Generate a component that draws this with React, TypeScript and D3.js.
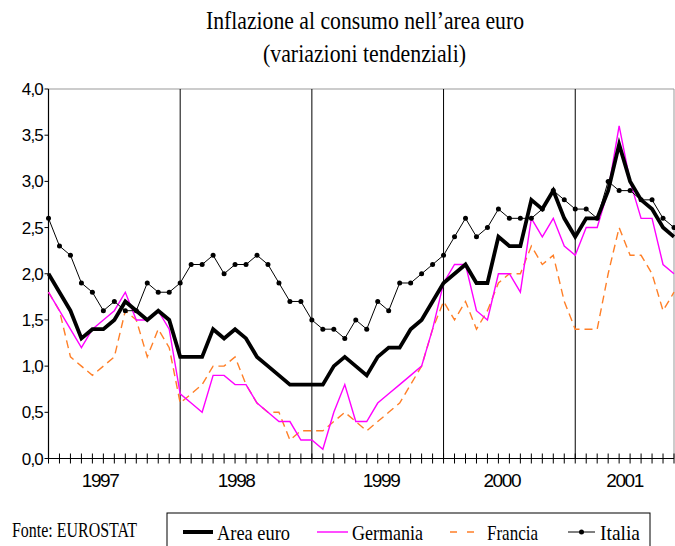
import React from "react";
import * as d3 from "d3";

// monthly data, Jan 1997 - Oct 2001
const areaEuro = [
  2.0, 1.8, 1.6, 1.3, 1.4, 1.4, 1.5, 1.7, 1.6, 1.5, 1.6, 1.5,
  1.1, 1.1, 1.1, 1.4, 1.3, 1.4, 1.3, 1.1, 1.0, 0.9, 0.8, 0.8,
  0.8, 0.8, 1.0, 1.1, 1.0, 0.9, 1.1, 1.2, 1.2, 1.4, 1.5, 1.7,
  1.9, 2.0, 2.1, 1.9, 1.9, 2.4, 2.3, 2.3, 2.8, 2.7, 2.9, 2.6,
  2.4, 2.6, 2.6, 2.9, 3.4, 3.0, 2.8, 2.7, 2.5, 2.4,
];
const germania = [
  1.8, 1.6, 1.4, 1.2, 1.4, 1.5, 1.6, 1.8, 1.5, 1.5, 1.6, 1.4,
  0.7, 0.6, 0.5, 0.9, 0.9, 0.8, 0.8, 0.6, 0.5, 0.4, 0.4, 0.2,
  0.2, 0.1, 0.5, 0.8, 0.4, 0.4, 0.6, 0.7, 0.8, 0.9, 1.0, 1.4,
  1.9, 2.1, 2.1, 1.6, 1.5, 2.0, 2.0, 1.8, 2.6, 2.4, 2.6, 2.3,
  2.2, 2.5, 2.5, 2.9, 3.6, 3.0, 2.6, 2.6, 2.1, 2.0,
];
const francia = [
  1.8, 1.6, 1.1, 1.0, 0.9, 1.0, 1.1, 1.6, 1.5, 1.1, 1.4, 1.2,
  0.6, 0.7, 0.8, 1.0, 1.0, 1.1, 0.8, 0.6, 0.5, 0.5, 0.2, 0.3,
  0.3, 0.3, 0.4, 0.5, 0.4, 0.3, 0.4, 0.5, 0.6, 0.8, 1.0, 1.4,
  1.7, 1.5, 1.7, 1.4, 1.6, 1.9, 2.0, 2.0, 2.3, 2.1, 2.2, 1.7,
  1.4, 1.4, 1.4, 2.0, 2.5, 2.2, 2.2, 2.0, 1.6, 1.8,
];
const italia = [
  2.6, 2.3, 2.2, 1.9, 1.8, 1.6, 1.7, 1.6, 1.6, 1.9, 1.8, 1.8,
  1.9, 2.1, 2.1, 2.2, 2.0, 2.1, 2.1, 2.2, 2.1, 1.9, 1.7, 1.7,
  1.5, 1.4, 1.4, 1.3, 1.5, 1.4, 1.7, 1.6, 1.9, 1.9, 2.0, 2.1,
  2.2, 2.4, 2.6, 2.4, 2.5, 2.7, 2.6, 2.6, 2.6, 2.7, 2.9, 2.8,
  2.7, 2.7, 2.6, 3.0, 2.9, 2.9, 2.8, 2.8, 2.6, 2.5,
];

const years = ["1997", "1998", "1999", "2000", "2001"];
const yearLabelPos = [4.7, 17.1, 30.3, 41.3, 52.5];
const yearStarts = [12, 24, 36, 48];
const yTicks = [0, 0.5, 1, 1.5, 2, 2.5, 3, 3.5, 4];

const W = 675;
const H = 546;
const serif = "'Liberation Serif', 'Times New Roman', serif";
const sans = "'Liberation Sans', Arial, sans-serif";

export default function App() {
  const n = areaEuro.length;
  const x = d3.scaleLinear().domain([0, n - 1]).range([48.5, 674]);
  const y = d3.scaleLinear().domain([0, 4]).range([458.5, 89]);
  const line = d3
    .line<number>()
    .x((_, i) => x(i))
    .y((d) => y(d));

  const fmt = (v: number) => v.toFixed(1).replace(".", ",");

  const [x0, x1] = x.range();
  const [yb, yt] = y.range();

  return (
    <div style={{ position: "absolute", left: 0, top: 0 }}>
      <svg width={W} height={H} style={{ display: "block", background: "#fff" }}>
        {/* title */}
        <text x={206} y={29} fontFamily={serif} fontSize={25} textLength={318} lengthAdjust="spacingAndGlyphs">
          Inflazione al consumo nell’area euro
        </text>
        <text x={263} y={62} fontFamily={serif} fontSize={25} textLength={203} lengthAdjust="spacingAndGlyphs">
          (variazioni tendenziali)
        </text>

        {/* plot frame */}
        <line x1={x0} x2={x1} y1={yt} y2={yt} stroke="#999" strokeWidth={1} />
        <line x1={x1} x2={x1} y1={yt} y2={yb} stroke="#999" strokeWidth={1} />

        {/* year separators */}
        {yearStarts.map((m) => (
          <line key={m} x1={x(m)} x2={x(m)} y1={yt} y2={yb} stroke="#000" strokeWidth={1} />
        ))}

        {/* y axis */}
        <line x1={x0} x2={x0} y1={yt} y2={yb} stroke="#000" strokeWidth={1.2} />
        {yTicks.map((t) => (
          <g key={t}>
            <line x1={x0 - 4} x2={x0} y1={y(t)} y2={y(t)} stroke="#000" />
            <text x={43} y={y(t) + 6} textAnchor="end" fontFamily={sans} fontSize={17} letterSpacing={-0.8}>
              {fmt(t)}
            </text>
          </g>
        ))}

        {/* x axis */}
        <line x1={x0} x2={x1} y1={yb} y2={yb} stroke="#000" strokeWidth={1.2} />
        {d3.range(n).map((i) => (
          <line key={i} x1={x(i)} x2={x(i)} y1={yb - 5} y2={yb + 5} stroke="#000" />
        ))}
        {years.map((yr, i) => (
          <text
            key={yr}
            x={x(yearLabelPos[i])}
            y={487}
            textAnchor="middle"
            fontFamily={sans}
            fontSize={19}
            letterSpacing={-1.4}
          >
            {yr}
          </text>
        ))}

        {/* series */}
        <path d={line(francia) ?? ""} fill="none" stroke="#FF7F27" strokeWidth={1.4} strokeDasharray="8,5" />
        <path d={line(germania) ?? ""} fill="none" stroke="#FF00FF" strokeWidth={1.4} />
        <path d={line(italia) ?? ""} fill="none" stroke="#000" strokeWidth={1} />
        {italia.map((v, i) => (
          <circle key={i} cx={x(i)} cy={y(v)} r={2.5} fill="#000" />
        ))}
        <path d={line(areaEuro) ?? ""} fill="none" stroke="#000" strokeWidth={3.8} strokeLinejoin="miter" />

        {/* source */}
        <text x={12} y={537} fontFamily={serif} fontSize={20} textLength={125} lengthAdjust="spacingAndGlyphs">
          Fonte: EUROSTAT
        </text>

        {/* legend */}
        <rect x={167} y={513} width={483} height={45} fill="none" stroke="#000" strokeWidth={1} />
        <line x1={183} x2={213} y1={532} y2={532} stroke="#000" strokeWidth={4} />
        <text x={217} y={540} fontFamily={serif} fontSize={21} textLength={73} lengthAdjust="spacingAndGlyphs">
          Area euro
        </text>
        <line x1={317} x2={348} y1={532} y2={532} stroke="#FF00FF" strokeWidth={1.4} />
        <text x={352} y={540} fontFamily={serif} fontSize={21} textLength={71} lengthAdjust="spacingAndGlyphs">
          Germania
        </text>
        <line x1={450} x2={476} y1={532} y2={532} stroke="#FF7F27" strokeWidth={1.4} strokeDasharray="7,10" />
        <text x={487} y={540} fontFamily={serif} fontSize={21} textLength={51} lengthAdjust="spacingAndGlyphs">
          Francia
        </text>
        <line x1={568} x2={595} y1={532} y2={532} stroke="#000" strokeWidth={1} />
        <circle cx={581.5} cy={532} r={2.5} fill="#000" />
        <text x={600} y={540} fontFamily={serif} fontSize={21} textLength={40} lengthAdjust="spacingAndGlyphs">
          Italia
        </text>
      </svg>
    </div>
  );
}
